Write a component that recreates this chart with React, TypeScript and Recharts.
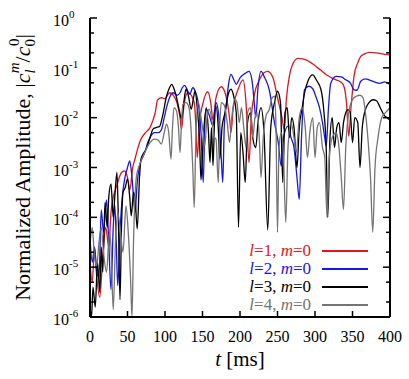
import React from "react";
import { LineChart, Line, XAxis, YAxis, Label } from "recharts";

// [t in ms, log10 of normalized amplitude]
const modeL1: [number, number][] = [
  [0, -4.9], [3, -5.3], [6, -4.6], [9, -5.2], [13, -5.6], [17, -4.8], [21, -4.2], [25, -4.6], [28, -3.9],
  [31, -3.6], [35, -3.4], [39, -3.2], [42, -3.1], [46, -3.07], [50, -3.2], [53, -3.45], [57, -3.0], [60, -2.83],
  [64, -2.6], [68, -2.43], [74, -2.3], [80, -2.2], [84, -2.05], [87, -1.9], [90, -1.65], [95, -1.6], [100, -1.62],
  [106, -1.5], [111, -1.55], [116, -1.7], [120, -2.0], [122, -2.23], [125, -1.8], [128, -1.55], [131, -1.5],
  [135, -1.55], [139, -1.7], [141, -2.1], [143, -2.8], [146, -2.1], [150, -1.75], [157, -1.48], [161, -1.7],
  [164, -2.05], [168, -1.6], [175, -1.38], [181, -1.55], [186, -2.0], [188, -2.3], [191, -1.8], [197, -1.45],
  [204, -1.24], [208, -1.7], [212, -2.9], [215, -2.0], [219, -1.55], [226, -1.24], [232, -1.1], [237, -1.07],
  [244, -1.2], [250, -1.6], [256, -2.0], [259, -2.24], [262, -1.6], [266, -1.15], [270, -0.94], [277, -0.81],
  [283, -0.82], [288, -0.84], [295, -0.9], [301, -0.97], [308, -1.05], [315, -1.14], [322, -1.2], [328, -1.24],
  [334, -1.28], [338, -1.35], [342, -1.7], [345, -2.37], [348, -1.8], [352, -1.17], [357, -0.9], [361, -0.77],
  [366, -0.72], [372, -0.69], [380, -0.7], [386, -0.71], [393, -0.73], [400, -0.74],
];

const modeL2: [number, number][] = [
  [0, -4.4], [3, -4.9], [6, -4.6], [9, -5.1], [12, -5.2], [15, -3.85], [18, -4.3], [22, -3.65], [25, -4.5],
  [28, -5.45], [31, -4.2], [33, -3.75], [35, -4.5], [37, -5.37], [40, -4.3], [43, -3.6], [46, -3.25], [50, -3.0],
  [53, -2.87], [56, -3.2], [60, -3.9], [63, -3.3], [66, -2.97], [70, -2.8], [73, -2.7], [77, -2.5], [80, -2.4],
  [86, -2.3], [91, -2.3], [95, -2.25], [99, -2.0], [102, -1.8], [106, -1.6], [111, -1.5], [116, -1.55], [120, -1.5],
  [123, -1.4], [126, -1.35], [130, -1.45], [133, -1.53], [137, -1.4], [141, -1.5], [144, -1.67], [148, -2.3],
  [151, -3.3], [153, -2.2], [155, -1.83], [159, -1.95], [164, -2.17], [166, -1.9], [168, -1.7], [172, -2.0],
  [175, -2.8], [177, -3.3], [179, -2.2], [182, -1.7], [185, -1.3], [188, -1.13], [192, -1.25], [195, -1.33],
  [200, -1.2], [206, -1.12], [212, -1.07], [216, -1.25], [219, -1.7], [221, -2.0], [224, -1.4], [228, -1.07],
  [233, -1.2], [239, -1.44], [246, -2.1], [251, -2.5], [255, -2.97], [258, -2.4], [264, -2.17], [268, -2.4],
  [272, -2.6], [276, -3.2], [279, -3.64], [282, -2.4], [286, -1.44], [292, -1.37], [297, -1.42], [301, -1.57],
  [306, -1.8], [310, -2.1], [313, -2.4], [315, -2.57], [318, -1.8], [321, -1.31], [328, -1.17], [335, -1.18],
  [341, -1.24], [347, -1.3], [352, -1.44], [356, -1.45], [361, -1.27], [367, -1.22], [372, -1.24], [379, -1.28],
  [386, -1.31], [393, -1.28], [400, -1.34],
];

const modeL3: [number, number][] = [
  [0, -5.8], [2, -6], [4, -5.4], [7, -5.8], [10, -4.9], [13, -5.5], [15, -4.6], [17, -5.1], [20, -3.7],
  [23, -4.2], [25, -3.6], [28, -3.33], [31, -4.0], [33, -3.6], [36, -3.1], [38, -4.2], [40, -5.65], [42, -4.2],
  [44, -3.5], [47, -3.4], [50, -3.23], [53, -3.6], [55, -3.97], [58, -3.5], [60, -3.6], [63, -4.23], [66, -3.2],
  [68, -2.83], [72, -2.7], [75, -2.63], [80, -2.4], [84, -2.23], [88, -2.2], [93, -2.17], [97, -1.95],
  [102, -1.57], [106, -1.4], [109, -1.33], [112, -1.42], [115, -1.57], [119, -1.85], [122, -2.03], [125, -1.7],
  [128, -1.43], [131, -1.55], [135, -1.83], [138, -1.6], [140, -1.47], [143, -1.8], [146, -2.43], [148, -3.25],
  [151, -2.4], [155, -1.8], [158, -2.3], [160, -2.9], [162, -2.2], [164, -2.96], [166, -2.1], [168, -1.77],
  [171, -2.2], [173, -2.83], [176, -2.2], [180, -1.9], [184, -1.55], [188, -1.43], [192, -1.6], [195, -1.9],
  [198, -4.2], [201, -2.3], [204, -2.7], [207, -3.3], [210, -2.1], [214, -1.9], [217, -2.4], [221, -2.6],
  [224, -2.1], [228, -1.8], [232, -2.3], [237, -4.25], [241, -2.2], [246, -1.7], [250, -1.47], [254, -1.7],
  [257, -3.3], [260, -1.9], [263, -1.8], [266, -2.4], [269, -2.0], [272, -2.2], [276, -3.0], [279, -2.2],
  [283, -1.8], [286, -1.51], [291, -1.25], [297, -1.14], [302, -1.25], [308, -1.44], [312, -1.9], [315, -2.64],
  [317, -4.0], [320, -2.4], [323, -2.0], [326, -2.6], [329, -2.2], [332, -2.1], [335, -2.5], [338, -2.1],
  [341, -1.9], [344, -1.84], [347, -1.9], [350, -2.5], [353, -2.0], [357, -2.1], [360, -3.0], [363, -2.2],
  [367, -1.85], [372, -1.7], [377, -1.64], [382, -1.66], [387, -1.8], [392, -1.95], [396, -2.0], [400, -2.05],
];

const modeL4: [number, number][] = [
  [0, -4.57], [3, -4.2], [6, -4.8], [9, -4.97], [12, -4.5], [15, -4.2], [18, -4.7], [22, -5.1], [26, -4.3],
  [28, -4.6], [31, -5.85], [34, -4.5], [37, -3.9], [40, -4.2], [44, -4.7], [48, -3.77], [51, -4.3], [54, -5.2],
  [56, -6], [58, -4.5], [60, -3.6], [62, -3.17], [66, -2.95], [71, -2.77], [76, -2.6], [80, -2.5], [86, -2.43],
  [91, -2.45], [95, -2.53], [99, -2.3], [102, -2.13], [105, -2.3], [108, -2.83], [110, -2.2], [112, -1.8],
  [115, -1.85], [118, -2.2], [120, -2.7], [122, -2.1], [124, -1.73], [128, -1.7], [132, -1.8], [135, -2.3],
  [137, -3.0], [139, -3.8], [141, -2.5], [144, -1.67], [148, -2.0], [151, -2.3], [153, -2.57], [156, -2.0],
  [159, -1.83], [163, -2.1], [166, -2.4], [168, -2.43], [171, -3.3], [173, -2.2], [175, -1.7], [179, -1.75],
  [183, -2.1], [186, -2.5], [189, -2.0], [193, -1.63], [196, -1.7], [199, -2.1], [202, -1.8], [205, -2.2],
  [208, -2.6], [210, -1.9], [214, -1.8], [217, -2.4], [220, -2.0], [223, -1.9], [226, -2.5], [228, -3.2],
  [231, -2.4], [235, -1.95], [239, -1.84], [243, -1.6], [246, -1.57], [248, -2.2], [250, -4.3], [252, -2.6],
  [255, -2.3], [258, -2.8], [261, -4.1], [264, -2.6], [268, -2.1], [272, -2.4], [275, -2.7], [279, -2.0],
  [283, -1.8], [287, -2.2], [290, -2.8], [293, -2.3], [297, -2.0], [300, -2.8], [303, -2.2], [306, -2.1],
  [310, -2.6], [313, -2.8], [316, -4.0], [319, -2.8], [323, -2.4], [328, -2.3], [332, -2.6], [335, -3.2],
  [338, -3.84], [341, -2.6], [345, -1.9], [350, -1.64], [355, -1.57], [360, -1.55], [364, -1.6], [368, -2.0],
  [371, -2.5], [374, -3.2], [377, -4.3], [380, -3.0], [384, -2.4], [389, -2.0], [394, -1.9], [400, -1.8],
];

const timeTicks = [0, 50, 100, 150, 200, 250, 300, 350, 400];
const decadeExponents = [-6, -5, -4, -3, -2, -1, 0];
const minorMantissas = [2, 5];

const seriesNames = ["1", "2", "3", "4"];
const seriesColors = ["#e0141e", "#1616e8", "#000000", "#747474"];

const FONT = "'Liberation Serif', 'Times New Roman', serif";

const toPoints = (s: [number, number][]) => s.map(([t, e]) => ({ t, v: Math.pow(10, e) }));

const yTicks: number[] = [];
decadeExponents.forEach((e) => {
  yTicks.push(Math.pow(10, e));
  if (e < 0) minorMantissas.forEach((m) => yTicks.push(m * Math.pow(10, e)));
});

const isDecade = (v: number) => {
  const e = Math.round(Math.log10(v));
  return Math.abs(v / Math.pow(10, e) - 1) < 1e-6;
};

const LeftTick = (props: any) => {
  const { x, y, payload } = props;
  const v = payload.value;
  const major = isDecade(v);
  const e = Math.round(Math.log10(v));
  return (
    <g>
      <line x1={x} x2={x + (major ? 7 : 4)} y1={y} y2={y} stroke="#000" strokeWidth={1.5} />
      {major && (
        <text x={x - 37} y={y + 8} fontFamily={FONT} fontSize={16} fill="#000">
          10
          <tspan dy={-8} fontSize={11}>
            {e}
          </tspan>
        </text>
      )}
    </g>
  );
};

const RightTick = (props: any) => {
  const { x, y, payload } = props;
  const major = isDecade(payload.value);
  return <line x1={x} x2={x - (major ? 7 : 4)} y1={y} y2={y} stroke="#000" strokeWidth={1.5} />;
};

const BottomTick = (props: any) => {
  const { x, y, payload } = props;
  return (
    <g>
      <line x1={x} x2={x} y1={y} y2={y - 6} stroke="#000" strokeWidth={1.5} />
      <text x={x} y={y + 25} textAnchor="middle" fontFamily={FONT} fontSize={16} fill="#000">
        {payload.value}
      </text>
    </g>
  );
};

const TopTick = (props: any) => {
  const { x, y } = props;
  return <line x1={x} x2={x} y1={y} y2={y + 6} stroke="#000" strokeWidth={1.5} />;
};

const XTitle = (props: any) => {
  const vb = props.viewBox;
  return (
    <text x={vb.x + vb.width / 2} y={vb.y + 49} textAnchor="middle" fontFamily={FONT} fontSize={21} fill="#000">
      <tspan fontStyle="italic">t</tspan> [ms]
    </text>
  );
};

const YTitle = (props: any) => {
  const vb = props.viewBox;
  const cx = vb.x + 30;
  const cy = vb.y + vb.height / 2;
  return (
    <text
      x={cx}
      y={cy}
      textAnchor="middle"
      fontFamily={FONT}
      fontSize={22}
      fill="#000"
      transform={`rotate(-90, ${cx}, ${cy})`}
    >
      Normalized Amplitude, |<tspan fontStyle="italic">c</tspan>
      <tspan fontStyle="italic" fontSize={15} dy={5}>l</tspan>
      <tspan fontStyle="italic" fontSize={15} dx={-4} dy={-16}>m</tspan>
      <tspan dy={11}>/</tspan>
      <tspan fontStyle="italic">c</tspan>
      <tspan fontSize={15} dy={5}>0</tspan>
      <tspan fontSize={15} dx={-7} dy={-16}>0</tspan>
      <tspan dy={11}>|</tspan>
    </text>
  );
};

const LegendBox = () => (
  <div style={{ position: "absolute", left: 245, top: 242, fontFamily: FONT, fontSize: 17, lineHeight: "18px" }}>
    {seriesNames.map((n, i) => (
      <div key={n} style={{ display: "flex", alignItems: "center", height: 18 }}>
        <div style={{ width: 66, textAlign: "right", color: seriesColors[i], whiteSpace: "nowrap" }}>
          <i>l</i>={n}, <i>m</i>=0
        </div>
        <div style={{ width: 46, height: 2, marginLeft: 11, background: seriesColors[i] }} />
      </div>
    ))}
  </div>
);

export default function App() {
  const lines = [modeL1, modeL2, modeL3, modeL4].map(toPoints);
  return (
    <div style={{ position: "absolute", left: 0, top: 0, width: 409, height: 379, background: "#fff" }}>
      <LineChart width={409} height={379} margin={{ top: 18, right: 0, bottom: 0, left: 0 }}>
        <XAxis
          xAxisId="bottom"
          dataKey="t"
          type="number"
          domain={[0, 400]}
          ticks={timeTicks}
          interval={0}
          allowDataOverflow
          height={62}
          tickSize={0}
          tickMargin={0}
          tick={<BottomTick />}
          axisLine={{ stroke: "#000", strokeWidth: 2 }}
        >
          <Label content={<XTitle />} />
        </XAxis>
        <XAxis
          xAxisId="top"
          orientation="top"
          dataKey="t"
          type="number"
          domain={[0, 400]}
          ticks={timeTicks}
          interval={0}
          allowDataOverflow
          height={0}
          tickSize={0}
          tickMargin={0}
          tick={<TopTick />}
          axisLine={{ stroke: "#000", strokeWidth: 2 }}
        />
        <YAxis
          yAxisId="left"
          type="number"
          scale="log"
          domain={[1e-6, 1]}
          ticks={yTicks}
          interval={0}
          allowDataOverflow
          width={90}
          tickSize={0}
          tickMargin={0}
          tick={<LeftTick />}
          axisLine={{ stroke: "#000", strokeWidth: 2 }}
        >
          <Label content={<YTitle />} />
        </YAxis>
        <YAxis
          yAxisId="right"
          orientation="right"
          type="number"
          scale="log"
          domain={[1e-6, 1]}
          ticks={yTicks}
          interval={0}
          allowDataOverflow
          width={19}
          tickSize={0}
          tickMargin={0}
          tick={<RightTick />}
          axisLine={{ stroke: "#000", strokeWidth: 2 }}
        />
        {lines.map((pts, i) => (
          <Line
            key={seriesNames[i]}
            xAxisId="bottom"
            yAxisId="left"
            data={pts}
            dataKey="v"
            type="monotone"
            stroke={seriesColors[i]}
            strokeWidth={1.3}
            dot={false}
            activeDot={false}
            isAnimationActive={false}
          />
        ))}
      </LineChart>
      <LegendBox />
    </div>
  );
}
